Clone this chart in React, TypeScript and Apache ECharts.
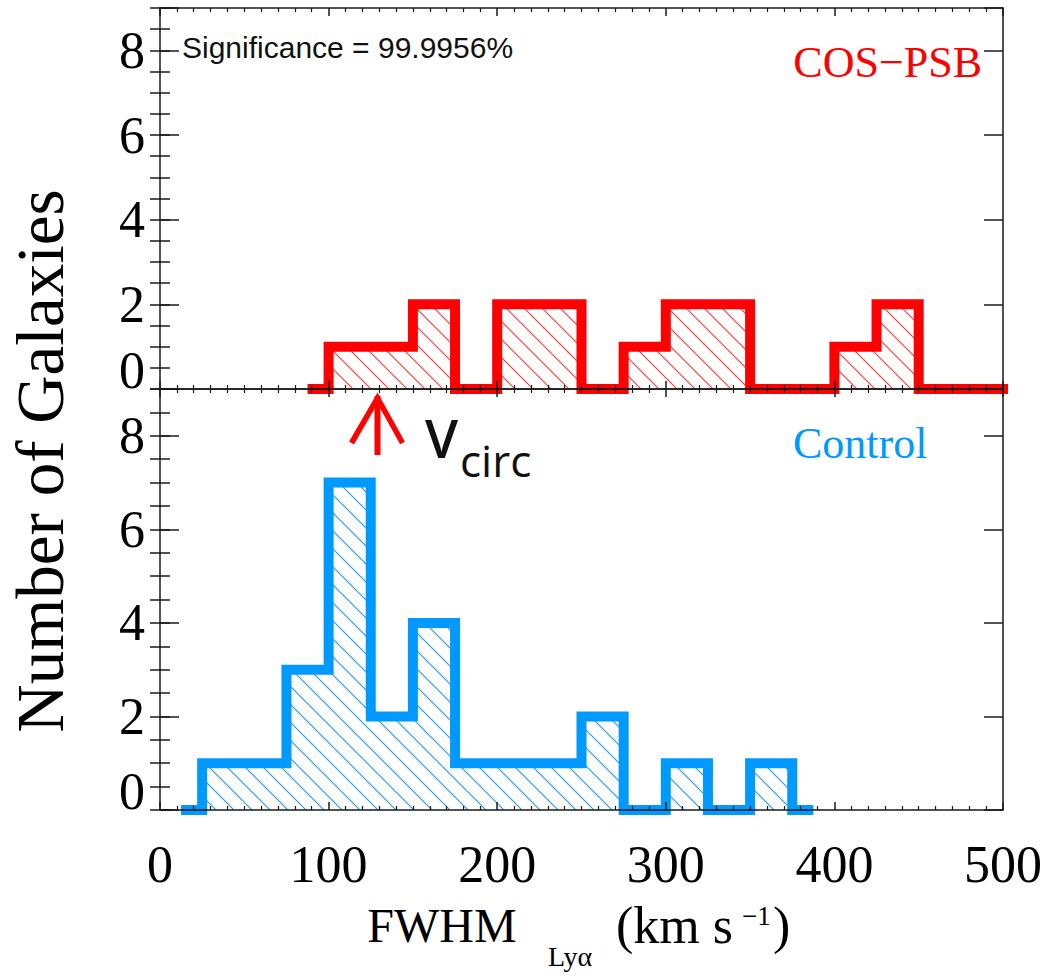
import React, { useEffect, useRef } from 'react';
import * as echarts from 'echarts';

// ---------- data ----------
// Histogram points (bin centres, km/s) drawn as IDL-style "psym=10" steps
const psbBinCenters = [87.5, 112.5, 137.5, 162.5, 187.5, 212.5, 237.5, 262.5, 287.5, 312.5, 337.5, 362.5, 387.5, 412.5, 437.5, 462.5, 487.5, 512.5];
const psbCounts = [0, 1, 1, 2, 0, 2, 2, 0, 1, 2, 2, 0, 0, 1, 2, 0, 0, 0];
const controlBinCenters = [12.5, 37.5, 62.5, 87.5, 112.5, 137.5, 162.5, 187.5, 212.5, 237.5, 262.5, 287.5, 312.5, 337.5, 362.5, 387.5];
const controlCounts = [0, 1, 1, 3, 7, 2, 4, 1, 1, 1, 2, 0, 1, 0, 1, 0];
const xTickValues = [0, 100, 200, 300, 400, 500];
const yTickValues = [0, 2, 4, 6, 8];
const vCirc = 129;
const significanceLabel = 'Significance = 99.9956%';
const psbLabel = 'COS\u2212PSB';
const controlLabel = 'Control';

const RED = '#ff0000';
const BLUE = '#0099ff';
const FRAME = '#1a1a1a';
const SERIF = 'Liberation Serif';

function makeHatch(color: string, size: number, lw: number) {
  const c = document.createElement('canvas');
  c.width = size;
  c.height = size;
  const ctx = c.getContext('2d')!;
  ctx.strokeStyle = color;
  ctx.lineWidth = lw;
  ctx.beginPath();
  for (const off of [-size, 0, size]) {
    ctx.moveTo(off - 2, -2);
    ctx.lineTo(off + size + 2, size + 2);
  }
  ctx.stroke();
  return { image: c.toDataURL(), repeat: 'repeat', imageWidth: size, imageHeight: size };
}

const lineStyleFrame = { color: FRAME, width: 1.5 };

function xAxisDef(gridIndex: number, position: string, showLabels: boolean) {
  return {
    type: 'value',
    gridIndex,
    position,
    min: 0,
    max: 500,
    interval: 100,
    z: 5,
    axisLine: { show: true, onZero: false, lineStyle: lineStyleFrame },
    axisTick: { show: true, inside: true, length: 8, lineStyle: lineStyleFrame },
    minorTick: { show: true, splitNumber: 10, length: 4, lineStyle: { color: FRAME, width: 1.2 } },
    axisLabel: {
      show: showLabels,
      margin: 28,
      fontFamily: SERIF,
      fontSize: 52,
      color: '#000',
      showMinLabel: true,
      showMaxLabel: true,
      formatter: (v: number) => (xTickValues.includes(v) ? String(v) : ''),
    },
    splitLine: { show: false },
    minorSplitLine: { show: false },
  };
}

function yMajor(gridIndex: number, position: string, showLabels: boolean) {
  return {
    type: 'value',
    gridIndex,
    position,
    min: 0,
    max: 9,
    interval: 2,
    z: 5,
    axisLine: { show: true, onZero: false, lineStyle: lineStyleFrame },
    axisTick: { show: true, inside: true, length: 19, lineStyle: lineStyleFrame },
    axisLabel: {
      show: showLabels,
      margin: 15,
      fontFamily: SERIF,
      fontSize: 52,
      color: '#000',
      showMinLabel: true,
      showMaxLabel: true,
      formatter: (v: number) =>
        v === 0 ? '{z|0}\n{s| }' : yTickValues.includes(v) ? String(v) : '',
      rich: {
        z: { fontFamily: SERIF, fontSize: 52, color: '#000', lineHeight: 52 },
        s: { fontSize: 4, lineHeight: 38 },
      },
    },
    splitLine: { show: false },
  };
}

function yMinor(gridIndex: number, position: string) {
  return {
    type: 'value',
    gridIndex,
    position,
    min: 0,
    max: 9,
    interval: 0.5,
    z: 5,
    axisLine: { show: false },
    axisTick: { show: true, inside: true, length: 10, lineStyle: lineStyleFrame },
    axisLabel: { show: false },
    splitLine: { show: false },
  };
}

function txt(text: string, x: number, y: number, font: string, fill: string, align = 'left', extra: any = {}) {
  return {
    type: 'text',
    x,
    y,
    z: 10,
    ...extra,
    style: { text, font, fill, align, verticalAlign: 'middle' },
  };
}

export default function App() {
  const ref = useRef<HTMLDivElement>(null);

  useEffect(() => {
    if (!ref.current) return;
    const chart = echarts.init(ref.current, null, { renderer: 'svg' });

    const redHatch = makeHatch('rgba(255,40,40,0.9)', 18, 1.2);
    const blueHatch = makeHatch('rgba(30,150,240,0.95)', 18, 1.2);

    const option: any = {
      animation: false,
      backgroundColor: '#ffffff',
      grid: [
        { left: 160, top: 8, width: 843, height: 381, containLabel: false, outerBoundsMode: 'none' },
        { left: 160, top: 389, width: 843, height: 421, containLabel: false, outerBoundsMode: 'none' },
      ],
      xAxis: [
        xAxisDef(0, 'bottom', false),
        xAxisDef(0, 'top', false),
        xAxisDef(1, 'bottom', true),
        xAxisDef(1, 'top', false),
      ],
      yAxis: [
        yMajor(0, 'left', true),
        yMinor(0, 'left'),
        yMajor(0, 'right', false),
        yMinor(0, 'right'),
        yMajor(1, 'left', true),
        yMinor(1, 'left'),
        yMajor(1, 'right', false),
        yMinor(1, 'right'),
      ],
      series: [
        {
          type: 'line',
          name: 'COS-PSB',
          xAxisIndex: 0,
          yAxisIndex: 0,
          step: 'middle',
          symbol: 'none',
          showSymbol: false,
          z: 2,
          data: psbBinCenters.map((x, i) => [x, psbCounts[i]]),
          lineStyle: { color: RED, width: 10, join: 'miter', cap: 'butt' },
          areaStyle: { color: redHatch, opacity: 1 },
        },
        {
          type: 'line',
          name: 'Control',
          xAxisIndex: 2,
          yAxisIndex: 4,
          step: 'middle',
          symbol: 'none',
          showSymbol: false,
          z: 2,
          data: controlBinCenters.map((x, i) => [x, controlCounts[i]]),
          lineStyle: { color: BLUE, width: 10, join: 'miter', cap: 'butt' },
          areaStyle: { color: blueHatch, opacity: 1 },
        },
        {
          type: 'custom',
          name: 'vcirc',
          xAxisIndex: 2,
          yAxisIndex: 4,
          clip: false,
          z: 6,
          data: [[vCirc]],
          renderItem: (params: any, api: any) => {
            const p = api.coord([api.value(0), 9]);
            const x = p[0];
            const top = p[1];
            const tipY = top + 9;
            return {
              type: 'group',
              children: [
                {
                  type: 'line',
                  shape: { x1: x, y1: top + 7, x2: x, y2: top + 66 },
                  style: { stroke: RED, lineWidth: 6 },
                },
                {
                  type: 'polyline',
                  shape: { points: [[x - 26, top + 54], [x, tipY], [x + 25, top + 54]] },
                  style: { stroke: RED, lineWidth: 5.5, fill: 'none', lineJoin: 'miter' },
                },
              ],
            };
          },
        },
      ],
      graphic: [
        txt(significanceLabel, 182, 47, '30px "Liberation Sans"', '#111'),
        txt(psbLabel, 982, 62, `44px "${SERIF}"`, RED, 'right'),
        txt(controlLabel, 793, 443, `44px "${SERIF}"`, BLUE),
        txt('V', 425, 437, '600 53px "Open Sans"', '#111'),
        txt('circ', 460, 460, '500 44px "Open Sans"', '#111'),
        txt('Number of Galaxies', 40, 461, `67px "${SERIF}"`, '#000', 'center', { rotation: Math.PI / 2 }),
        txt('FWHM', 442, 925, `48px "${SERIF}"`, '#000', 'center'),
        txt('Ly\u03b1', 548, 956, `28px "${SERIF}"`, '#000'),
        txt('(km s', 616, 925, `52px "${SERIF}"`, '#000'),
        txt('\u22121', 742, 916, `27px "${SERIF}"`, '#000'),
        txt(')', 773, 925, `52px "${SERIF}"`, '#000'),
      ],
    };

    chart.setOption(option);
    return () => chart.dispose();
  }, []);

  return (
    <div
      ref={ref}
      style={{ position: 'absolute', left: 0, top: 0, width: 1049, height: 976, background: '#fff' }}
    />
  );
}
